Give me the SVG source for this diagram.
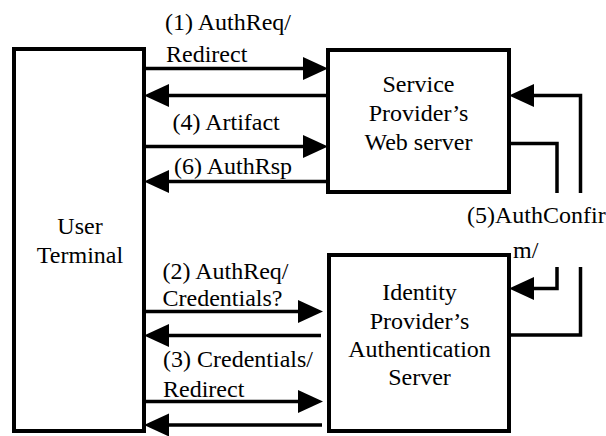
<svg xmlns="http://www.w3.org/2000/svg" width="606" height="436" viewBox="0 0 606 436">
<style>
.box{fill:#fff;stroke:#000;stroke-width:4}
.ln{fill:none;stroke:#000;stroke-width:3.5}
.arr{marker-end:url(#ah)}
.t{font-family:'Liberation Serif','Times New Roman',serif;font-size:24px;fill:#000}
</style>
<defs>
<marker id="ah" markerUnits="userSpaceOnUse" markerWidth="26" markerHeight="24" refX="0" refY="11.5" orient="auto" overflow="visible">
<path d="M0,0 L25,11.5 L0,23 z" fill="#000"/>
</marker>
</defs>
<rect width="606" height="436" fill="#fff"/>
<g id="user-terminal">
<rect class="box" x="14" y="49" width="130" height="382"/>
<text class="t" x="80" y="234" text-anchor="middle">User</text>
<text class="t" x="80" y="263" text-anchor="middle">Terminal</text>
</g>
<g id="service-provider">
<rect class="box" x="328" y="50" width="181" height="142"/>
<text class="t" x="418.5" y="92" text-anchor="middle">Service</text>
<text class="t" x="418.5" y="120.5" text-anchor="middle">Provider&#8217;s</text>
<text class="t" x="418.5" y="149.5" text-anchor="middle">Web server</text>
</g>
<g id="identity-provider">
<rect class="box" x="329" y="255" width="180" height="176"/>
<text class="t" x="419.5" y="300" text-anchor="middle">Identity</text>
<text class="t" x="419.5" y="328.5" text-anchor="middle">Provider&#8217;s</text>
<text class="t" x="419.5" y="357" text-anchor="middle">Authentication</text>
<text class="t" x="419.5" y="385" text-anchor="middle">Server</text>
</g>
<g id="connectors">
<path class="ln arr" d="M144,68.5 H303"/>
<path class="ln arr" d="M328,95.5 H169"/>
<path class="ln arr" d="M144,146.5 H303"/>
<path class="ln arr" d="M328,181.5 H169"/>
<path class="ln arr" d="M144,311.5 H298"/>
<path class="ln arr" d="M321,335.5 H169"/>
<path class="ln arr" d="M144,401.5 H298"/>
<path class="ln arr" d="M322,425 H169"/>
<path class="ln" d="M509,143.5 H557 V193"/>
<path class="ln arr" d="M557,267 V288.5 H534"/>
<path class="ln" d="M509,335 H580.5 V267"/>
<path class="ln arr" d="M580.5,193 V95.5 H534"/>
</g>
<g id="labels">
<text class="t" x="165" y="29.5">(1) AuthReq/</text>
<text class="t" x="166" y="61.5">Redirect</text>
<text class="t" x="172.5" y="129.5">(4) Artifact</text>
<text class="t" x="174" y="173.5">(6) AuthRsp</text>
<text class="t" x="162.5" y="279">(2) AuthReq/</text>
<text class="t" x="162.5" y="306">Credentials?</text>
<text class="t" x="163" y="367">(3) Credentials/</text>
<text class="t" x="163" y="397">Redirect</text>
<text class="t" x="467" y="222.5">(5)AuthConfir</text>
<text class="t" x="513" y="258">m/</text>
</g>
</svg>
